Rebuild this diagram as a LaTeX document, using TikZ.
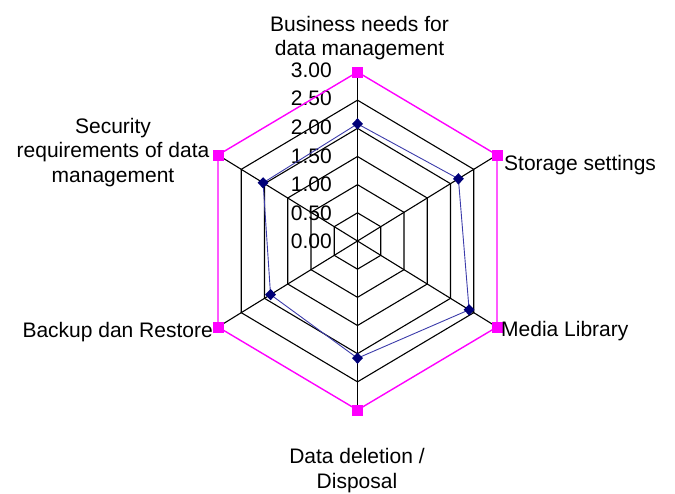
\documentclass[tikz,border=0pt]{standalone}
\usepackage{fontspec}
\setmainfont{Liberation Sans}
\usetikzlibrary{calc,shapes.geometric}
\definecolor{magc}{RGB}{255,0,255}
\definecolor{serc}{RGB}{60,60,170}
\definecolor{mkc}{RGB}{0,0,120}
\tikzset{
  gridline/.style={draw=black, line width=1.1pt},
  magline/.style={draw=magc, line width=1.4pt},
  serline/.style={draw=serc, line width=0.9pt},
  sqmark/.style={rectangle, fill=magc, minimum size=11pt, inner sep=0pt},
  dmark/.style={diamond, fill=mkc, minimum width=11pt, minimum height=11.5pt, inner sep=0pt},
  lbl/.style={font=\fontsize{21}{24.5}\selectfont, inner sep=0pt, align=center},
  tick/.style={font=\fontsize{21}{24.5}\selectfont, inner sep=0pt, anchor=east}
}
\begin{document}
\begin{tikzpicture}[x=1pt,y=-1pt]
\useasboundingbox (0,0) rectangle (675,493);
\coordinate (C) at (357.5,241);
\coordinate (V1) at (357.5,72);
\coordinate (V2) at (497,155);
\coordinate (V3) at (497,327);
\coordinate (V4) at (357.5,410);
\coordinate (V5) at (218,327);
\coordinate (V6) at (218,155);
% rings
\foreach \r in {1,...,5}{
  \draw[gridline] ($(C)!\r/6!(V1)$) -- ($(C)!\r/6!(V2)$) -- ($(C)!\r/6!(V3)$)
    -- ($(C)!\r/6!(V4)$) -- ($(C)!\r/6!(V5)$) -- ($(C)!\r/6!(V6)$) -- cycle;
}
% spokes
\foreach \i in {1,...,6}{ \draw[gridline] (C) -- (V\i); }
% tick labels
\node[tick] (t0) at (332,241.7) {0.00};
\node[tick] (t1) at (332,213.1) {0.50};
\node[tick] (t2) at (332,184.5) {1.00};
\node[tick] (t3) at (332,155.9) {1.50};
\node[tick] (t4) at (332,127.3) {2.00};
\node[tick] (t5) at (332,98.7) {2.50};
\node[tick] (t6) at (332,70.1) {3.00};
% max series
\draw[magline] (V1) -- (V2) -- (V3) -- (V4) -- (V5) -- (V6) -- cycle;
\foreach \i in {1,...,6}{ \node[sqmark] (s\i) at (V\i) {}; }
% data series
\coordinate (D1) at ($(C)!2.08/3!(V1)$);
\coordinate (D2) at ($(C)!2.17/3!(V2)$);
\coordinate (D3) at ($(C)!2.40/3!(V3)$);
\coordinate (D4) at ($(C)!2.08/3!(V4)$);
\coordinate (D5) at ($(C)!1.87/3!(V5)$);
\coordinate (D6) at ($(C)!2.03/3!(V6)$);
\draw[serline] (D1) -- (D2) -- (D3) -- (D4) -- (D5) -- (D6) -- cycle;
\foreach \i in {1,...,6}{ \node[dmark] (m\i) at (D\i) {}; }
% category labels
\node[lbl] (L1) at (359.5,38) {Business needs for\\data management};
\node[lbl, anchor=base west] (L2) at (504,170) {Storage settings};
\node[lbl, anchor=base west] (L3) at (501,336) {Media Library};
\node[lbl] (L4) at (357,470.5) {Data deletion /\\Disposal};
\node[lbl, anchor=base east] (L5) at (213,337) {Backup dan Restore};
\node[lbl] (L6) at (113,152.5) {Security\\requirements of data\\management};
\end{tikzpicture}
\end{document}
